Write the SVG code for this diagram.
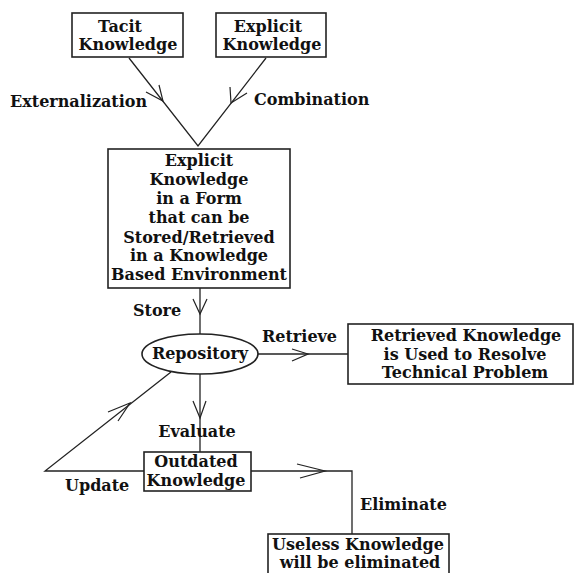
<svg xmlns="http://www.w3.org/2000/svg" width="576" height="573" viewBox="0 0 576 573">
<style>
.box{fill:#fff;stroke:#222;stroke-width:1.6}
.ln{fill:none;stroke:#222;stroke-width:1.3}
.ah{fill:none;stroke:#222;stroke-width:1.2}
text{font-family:"DejaVu Serif","Liberation Serif",serif;font-weight:bold;font-size:16px;fill:#111}
.c{text-anchor:middle}
</style>
<rect width="576" height="573" fill="#fff"/>
<g id="connectors">
<path class="ln" d="M129,58 L198,146 L266,58"/>
<path class="ah" d="M146,92 L163,101 L159,85"/>
<path class="ah" d="M230,87 L231,103 L247,93"/>
<path class="ln" d="M200,288 L200,334"/>
<path class="ah" d="M193,299 L200,314 L207,299"/>
<path class="ln" d="M258,354 L348,354"/>
<path class="ah" d="M292,349 L308,354 L292,361"/>
<path class="ln" d="M200,374 L200,441"/>
<path class="ah" d="M193,401 L200,418 L206,401"/>
<path class="ln" d="M200,441 L200,452"/>
<path class="ln" d="M251,471 L352,471 L352,534"/>
<path class="ah" d="M297,464 L325,471 L300,478"/>
<path class="ln" d="M144,471 L45,471 L171,372"/>
<path class="ah" d="M108,412 L130,403 L118,421"/>
</g>
<g id="tacit">
<rect class="box" x="72" y="13" width="111" height="44"/>
<text class="c" x="120" y="32">Tacit</text>
<text class="c" x="128" y="50">Knowledge</text>
</g>
<g id="explicit">
<rect class="box" x="216" y="13" width="110" height="44"/>
<text class="c" x="268" y="32">Explicit</text>
<text class="c" x="272" y="50">Knowledge</text>
</g>
<g id="form">
<rect class="box" x="108" y="149" width="182" height="139"/>
<text class="c" x="199" y="166">Explicit</text>
<text class="c" x="199" y="185">Knowledge</text>
<text class="c" x="199" y="204">in a Form</text>
<text class="c" x="199" y="223">that can be</text>
<text class="c" x="199" y="243">Stored/Retrieved</text>
<text class="c" x="199" y="261">in a Knowledge</text>
<text class="c" x="199" y="280">Based Environment</text>
</g>
<g id="repository">
<ellipse class="box" cx="200" cy="354" rx="58" ry="20"/>
<text class="c" x="200" y="359">Repository</text>
</g>
<g id="retrieved">
<rect class="box" x="348" y="324" width="225" height="60"/>
<text class="c" x="466" y="341">Retrieved Knowledge</text>
<text class="c" x="465" y="360">is Used to Resolve</text>
<text class="c" x="465" y="378">Technical Problem</text>
</g>
<g id="outdated">
<rect class="box" x="144" y="452" width="107" height="39"/>
<text class="c" x="196" y="467">Outdated</text>
<text class="c" x="196" y="486">Knowledge</text>
</g>
<g id="useless">
<rect class="box" x="268" y="534" width="181" height="50"/>
<text class="c" x="358" y="550">Useless Knowledge</text>
<text class="c" x="360" y="568">will be eliminated</text>
</g>
<g id="labels">
<text x="10" y="107">Externalization</text>
<text x="254" y="105">Combination</text>
<text x="133" y="316">Store</text>
<text x="262" y="342">Retrieve</text>
<text class="c" x="197" y="437">Evaluate</text>
<text x="65" y="491">Update</text>
<text x="360" y="510">Eliminate</text>
</g>
</svg>
